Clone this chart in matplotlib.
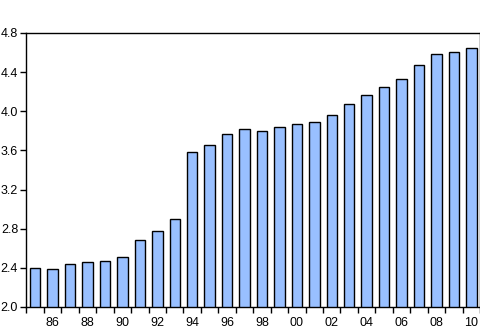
import matplotlib
matplotlib.use("Agg")
import matplotlib.pyplot as plt
import numpy as np

# yearly values, 1985-2010
years = list(range(1985, 2011))
values = [2.40, 2.39, 2.44, 2.46, 2.47, 2.51, 2.68, 2.78, 2.90,
          3.58, 3.65, 3.77, 3.82, 3.80, 3.84, 3.87, 3.89, 3.96,
          4.07, 4.17, 4.25, 4.33, 4.47, 4.58, 4.60, 4.65]
y_ticks = [2.0, 2.4, 2.8, 3.2, 3.6, 4.0, 4.4, 4.8]

plt.rcParams['font.family'] = ['Liberation Sans', 'DejaVu Sans']

fig = plt.figure(figsize=(4.81, 3.29), dpi=100)
ax = fig.add_axes([0.055, 0.067, 0.943, 0.833])

pos = np.arange(len(years))
ax.bar(pos, values, width=0.6, color='#99C0FF', edgecolor='black',
       linewidth=1.0, bottom=0)

ax.set_ylim(2.0, 4.8)
ax.set_xlim(-0.5, len(years) - 0.5)
ax.set_yticks(y_ticks)
ax.set_yticklabels([f"{t:.1f}" for t in y_ticks])

# tick marks between bars, labels every second year at bar centres
ax.set_xticks(np.arange(-0.5, len(years), 1.0))
ax.set_xticklabels([])
lab_pos = [i for i, y in enumerate(years) if y % 2 == 0]
ax.set_xticks(lab_pos, minor=True)
ax.set_xticklabels([f"{years[i] % 100:02d}" for i in lab_pos], minor=True)

ax.tick_params(axis='both', which='major', direction='out', length=4,
               width=1, labelsize=9, colors='black')
ax.tick_params(axis='x', which='minor', length=0, labelsize=9, pad=7)
ax.tick_params(axis='y', pad=2)

for s in ax.spines.values():
    s.set_linewidth(1.0)

fig.savefig("out.png", dpi=100)
